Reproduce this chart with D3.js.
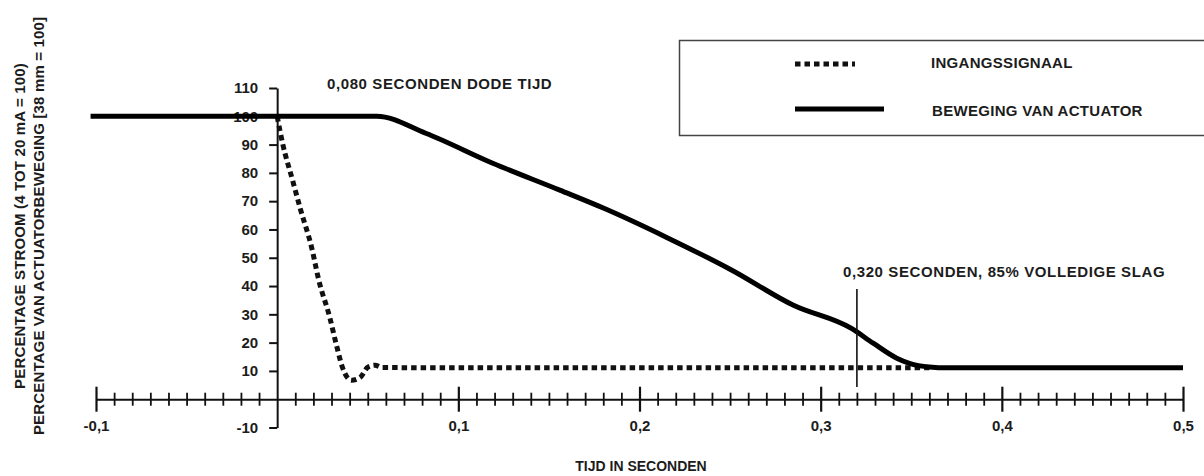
<!DOCTYPE html>
<html>
<head>
<meta charset="utf-8">
<script src="https://cdn.jsdelivr.net/npm/d3@7"></script>
<style>
  body { margin: 0; background: #fff; }
  text { font-family: "Liberation Sans", Arial, sans-serif; font-weight: bold; fill: #1c1c1c; }
</style>
</head>
<body>
<svg id="chart" width="1204" height="476"></svg>
<script>
// time (s) / percentage
var inputT = [0, 0.003, 0.0085, 0.013, 0.019, 0.023, 0.029, 0.033, 0.036, 0.041, 0.046, 0.05, 0.054, 0.058, 0.1, 0.2, 0.3, 0.36];
var inputV = [100, 90.4, 77.4, 66.8, 53.7, 42, 29, 18.4, 11.3, 6.7, 7.8, 11.3, 12, 11.2, 11.1, 11.1, 11.1, 11.1];

var actT = [-0.103, 0.055, 0.082, 0.119, 0.156, 0.181, 0.215, 0.251, 0.285, 0.317, 0.329, 0.342, 0.349, 0.36, 0.37, 0.5];
var actV = [100, 100, 94, 83.4, 73.9, 67.3, 57.2, 45.6, 33.2, 25, 19.8, 14.5, 12.7, 11.4, 11.1, 11.1];

var yTicks = [-10, 10, 20, 30, 40, 50, 60, 70, 80, 90, 100, 110];
var xMajor = [-0.1, 0.1, 0.2, 0.3, 0.4, 0.5];
var xLabels = ["-0,1", "0,1", "0,2", "0,3", "0,4", "0,5"];
var xMinor = d3.range(-9, 50).filter(function (i) { return i % 10 !== 0; }).map(function (i) { return i / 100; });

var markT = 0.32;

var svg = d3.select("#chart");

var x = d3.scaleLinear().domain([-0.1, 0.5]).range([96, 1183]);
var y = d3.scaleLinear().domain([-10, 110]).range([427.5, 88]);

// y axis
var yAxis = svg.append("g")
    .attr("transform", "translate(" + x(0) + ",0)")
    .call(d3.axisLeft(y).tickValues(yTicks).tickSizeOuter(0).tickSizeInner(8).tickPadding(11)
        .tickFormat(function (d) { return d; }));
yAxis.select(".domain").attr("stroke", "#111").attr("stroke-width", 2);
yAxis.selectAll(".tick line").attr("stroke", "#111").attr("stroke-width", 2);
yAxis.selectAll("text").attr("font-size", 15).style("font-family", "Liberation Sans, Arial").style("font-weight", "bold").attr("fill", "#1c1c1c");

// x axis minor ticks
var xMin = svg.append("g")
    .attr("transform", "translate(0," + y(0) + ")")
    .call(d3.axisBottom(x).tickValues(xMinor).tickSizeOuter(0).tickFormat(""));
xMin.select(".domain").attr("stroke", "#111").attr("stroke-width", 2);
xMin.selectAll(".tick line").attr("y1", -6.5).attr("y2", 6.5).attr("stroke", "#111").attr("stroke-width", 1.8);

// x axis major ticks
var xMaj = svg.append("g")
    .attr("transform", "translate(0," + y(0) + ")")
    .call(d3.axisBottom(x).tickValues(xMajor).tickSizeOuter(0).tickPadding(15)
        .tickFormat(function (d, i) { return xLabels[i]; }));
xMaj.select(".domain").remove();
xMaj.selectAll(".tick line").attr("y1", -12.5).attr("y2", 12.5).attr("stroke", "#111").attr("stroke-width", 2.2);
xMaj.selectAll("text").attr("font-size", 15).style("font-family", "Liberation Sans, Arial").style("font-weight", "bold").attr("fill", "#1c1c1c");

// curves
var line = d3.line()
    .x(function (d) { return x(d[0]); })
    .y(function (d) { return y(d[1]); })
    .curve(d3.curveMonotoneX);

svg.append("path")
    .datum(d3.zip(inputT, inputV))
    .attr("d", line)
    .attr("fill", "none")
    .attr("stroke", "#111")
    .attr("stroke-width", 5)
    .attr("stroke-dasharray", "5.5,4");

svg.append("path")
    .datum(d3.zip(actT, actV))
    .attr("d", line)
    .attr("fill", "none")
    .attr("stroke", "#000")
    .attr("stroke-width", 5);

// 0.320 s marker
svg.append("line")
    .attr("x1", x(markT)).attr("x2", x(markT))
    .attr("y1", 289).attr("y2", 387)
    .attr("stroke", "#111").attr("stroke-width", 1.6);

// annotations
svg.append("text").attr("x", 327).attr("y", 89).attr("font-size", 15)
    .attr("letter-spacing", 0.6).text("0,080 SECONDEN DODE TIJD");
svg.append("text").attr("x", 843).attr("y", 277).attr("font-size", 15)
    .attr("letter-spacing", 0.6).text("0,320 SECONDEN, 85% VOLLEDIGE SLAG");

// axis titles
svg.append("text").attr("x", 641).attr("y", 471).attr("font-size", 14)
    .attr("text-anchor", "middle").text("TIJD IN SECONDEN");
svg.append("text").attr("font-size", 15).attr("text-anchor", "middle").attr("letter-spacing", 0.15)
    .attr("transform", "translate(24.5,226)rotate(-90)")
    .text("PERCENTAGE STROOM (4 TOT 20 mA = 100)");
svg.append("text").attr("font-size", 15).attr("text-anchor", "middle").attr("letter-spacing", 0.15)
    .attr("transform", "translate(43.5,226)rotate(-90)")
    .text("PERCENTAGE VAN ACTUATORBEWEGING [38 mm = 100]");

// legend
var lg = svg.append("g");
lg.append("rect").attr("x", 679.5).attr("y", 40.5).attr("width", 540).attr("height", 95)
    .attr("fill", "#fff").attr("stroke", "#444").attr("stroke-width", 1.5);
lg.append("line").attr("x1", 795).attr("x2", 855).attr("y1", 64).attr("y2", 64)
    .attr("stroke", "#111").attr("stroke-width", 5).attr("stroke-dasharray", "5.5,4");
lg.append("line").attr("x1", 795).attr("x2", 884).attr("y1", 109).attr("y2", 109)
    .attr("stroke", "#000").attr("stroke-width", 5);
lg.append("text").attr("x", 931).attr("y", 68).attr("font-size", 15).attr("letter-spacing", 0.3).text("INGANGSSIGNAAL");
lg.append("text").attr("x", 932).attr("y", 116).attr("font-size", 15).attr("letter-spacing", 0.3).text("BEWEGING VAN ACTUATOR");
</script>
</body>
</html>
